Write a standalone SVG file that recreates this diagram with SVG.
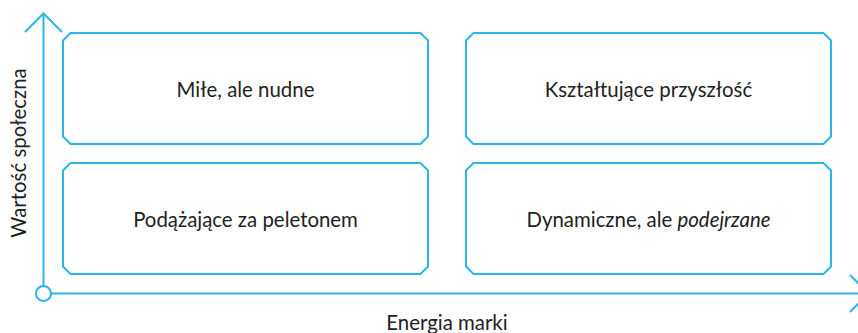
<svg xmlns="http://www.w3.org/2000/svg" width="858" height="333" viewBox="0 0 858 333">
  <style>
    .axis { fill: none; stroke: #29b5e8; stroke-width: 2; }
    .box { fill: #ffffff; stroke: #29b5e8; stroke-width: 2; }
    .label { font-family: Lato, "Open Sans", "Liberation Sans", sans-serif; font-size: 20.4px; fill: #222222; text-anchor: middle; dominant-baseline: central; }
    .axis-label { font-family: Lato, "Open Sans", "Liberation Sans", sans-serif; font-size: 20.4px; fill: #222222; text-anchor: middle; }
  </style>

  <!-- axes -->
  <g id="connectors">
    <line class="axis" x1="43.5" y1="285.5" x2="43.5" y2="14"/>
    <polyline class="axis" points="25,32 43.5,13.5 62,32"/>
    <line class="axis" x1="51" y1="293.5" x2="870" y2="293.5"/>
    <polyline class="axis" points="850,275 868.5,293.5 850,312"/>
    <circle class="axis" cx="43.5" cy="293.5" r="7.5"/>
  </g>

  <text class="axis-label" x="447" y="330">Energia marki</text>
  <text class="axis-label" font-size="22" transform="translate(26 153) rotate(-90)">Wartość społeczna</text>

  <!-- quadrants -->
  <g id="q-top-left">
    <path class="box" d="M70.5,33 H420.5 L428,40.5 V136.5 L420.5,144 H70.5 L63,136.5 V40.5 Z"/>
    <text class="label" x="245.5" y="89">Miłe, ale nudne</text>
  </g>
  <g id="q-top-right">
    <path class="box" d="M473.5,33 H823.5 L831,40.5 V136.5 L823.5,144 H473.5 L466,136.5 V40.5 Z"/>
    <text class="label" x="648.5" y="89">Kształtujące przyszłość</text>
  </g>
  <g id="q-bottom-left">
    <path class="box" d="M70.5,163 H420.5 L428,170.5 V266.5 L420.5,274 H70.5 L63,266.5 V170.5 Z"/>
    <text class="label" x="245.5" y="219">Podążające za peletonem</text>
  </g>
  <g id="q-bottom-right">
    <path class="box" d="M473.5,163 H823.5 L831,170.5 V266.5 L823.5,274 H473.5 L466,266.5 V170.5 Z"/>
    <text class="label" x="648.5" y="219">Dynamiczne, ale <tspan font-style="italic">podejrzane</tspan></text>
  </g>
</svg>
